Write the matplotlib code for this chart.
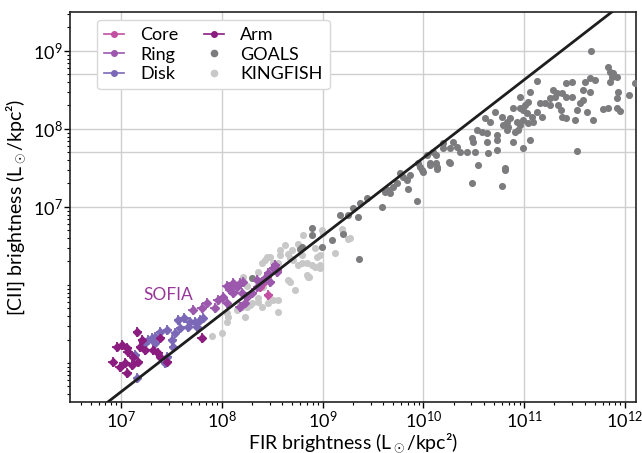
import numpy as np
import matplotlib.pyplot as plt
from matplotlib.ticker import LogLocator, NullFormatter, FixedLocator
from matplotlib.lines import Line2D

plt.rcParams['font.family'] = ['Lato', 'DejaVu Sans']
plt.rcParams['mathtext.fontset'] = 'custom'
plt.rcParams['mathtext.rm'] = 'Lato'
plt.rcParams['mathtext.it'] = 'Lato:italic'

# log10 values: (FIR, [CII])
goals = [(11.66, 9.00), (11.83, 8.79), (11.85, 8.73), (11.88, 8.72), (11.87, 8.67), (11.92, 8.67),
         (11.85, 8.60), (12.10, 8.59), (11.93, 8.47), (11.92, 8.40), (12.04, 8.44),
         (11.13, 8.62), (11.42, 8.59), (11.47, 8.60), (11.60, 8.60), (11.65, 8.65), (11.70, 8.63),
         (11.29, 8.50), (11.33, 8.46), (11.38, 8.46), (11.42, 8.41), (11.47, 8.41), (11.58, 8.50),
         (11.65, 8.47), (11.06, 8.47), (10.96, 8.41), (11.04, 8.35), (11.01, 8.31),
         (11.16, 8.33), (11.21, 8.33), (11.26, 8.31), (11.34, 8.31), (11.26, 8.40), (11.31, 8.41),
         (11.58, 8.37), (11.55, 8.33), (11.52, 8.24), (11.62, 8.22), (11.68, 8.12), (11.50, 8.12),
         (11.78, 8.26), (11.83, 8.27), (11.92, 8.27), (11.95, 8.23),
         (11.37, 8.24), (11.38, 8.15), (11.42, 8.14),
         (10.89, 8.27), (10.96, 8.27), (10.99, 8.24), (11.03, 8.21), (11.08, 8.15), (11.13, 8.22),
         (11.18, 8.15), (10.86, 8.14), (10.83, 8.09), (10.79, 8.05), (10.84, 8.03), (10.93, 8.09),
         (10.96, 8.05), (10.99, 8.12), (11.04, 8.08), (11.09, 8.09),
         (10.71, 8.22), (10.78, 8.15), (10.61, 8.14), (10.66, 8.09),
         (10.53, 7.99), (10.58, 7.96), (10.63, 7.95), (10.73, 7.92), (10.83, 7.99), (10.91, 7.96),
         (10.94, 7.99), (10.48, 7.88), (10.49, 7.83), (10.63, 7.83), (10.73, 7.86),
         (10.89, 7.83), (11.06, 7.86), (10.99, 7.76), (11.52, 7.72),
         (10.29, 7.83), (10.33, 7.77), (10.26, 7.76), (10.19, 7.76), (10.36, 7.71), (10.43, 7.71),
         (10.51, 7.71), (10.10, 7.71), (10.13, 7.67), (10.04, 7.67), (10.64, 7.69), (10.73, 7.73),
         (10.07, 7.56), (10.26, 7.56), (10.14, 7.51), (10.54, 7.54), (10.81, 7.50),
         (10.48, 7.31), (10.78, 7.27), (10.81, 7.47),
         (10.19, 7.82), (10.25, 7.58), (10.14, 7.49), (10.13, 7.56), (10.07, 7.54),
         (9.99, 7.47), (9.97, 7.51), (9.95, 7.56), (10.00, 7.45),
         (9.87, 7.41), (9.84, 7.35), (9.77, 7.44), (9.80, 7.38),
         (9.74, 7.31), (9.70, 7.26), (9.65, 7.22), (9.62, 7.19), (9.67, 7.18), (9.85, 7.23), (9.94, 7.08),
         (9.59, 7.00), (9.44, 7.12), (9.37, 7.05), (9.30, 6.99), (9.35, 6.87), (9.25, 6.90), (9.17, 6.90),
         (9.20, 6.65), (9.09, 6.58), (8.99, 6.49), (8.90, 6.73), (8.90, 6.64), (9.36, 6.33), (8.80, 6.49),
         (8.78, 6.46), (8.30, 6.09)]

kingfish = [(8.81, 6.64), (8.99, 6.71), (9.19, 6.72), (9.25, 6.59), (9.27, 6.60), (9.12, 6.41),
            (8.97, 6.38), (8.92, 6.47), (8.97, 6.26), (8.90, 6.26), (8.85, 6.28), (8.80, 6.28),
            (8.86, 6.10), (8.97, 6.22), (9.00, 6.67), (9.20, 6.67), (8.94, 6.36), (8.76, 6.26),
            (8.68, 6.35), (8.58, 6.38), (8.48, 6.36), (8.43, 6.32), (8.56, 6.28), (8.66, 6.06),
            (8.56, 5.81), (8.46, 5.77), (8.36, 5.83), (8.40, 5.72), (8.30, 5.77), (8.18, 5.74),
            (8.05, 5.64), (8.15, 5.68), (8.25, 5.72), (8.36, 6.17), (8.40, 6.03), (8.73, 5.94),
            (8.85, 6.13), (8.87, 6.10), (8.92, 6.23), (8.45, 6.36), (8.68, 6.04), (8.56, 5.65),
            (8.51, 5.81), (8.36, 5.78), (8.28, 5.74), (8.20, 5.72), (8.06, 5.59), (8.05, 5.53),
            (8.00, 5.38), (7.90, 5.35), (8.23, 5.59), (8.41, 5.97), (8.25, 5.99), (8.21, 6.10),
            (8.51, 6.28), (8.40, 6.28), (8.71, 6.32), (8.80, 6.38), (8.63, 6.51), (8.70, 6.45),
            (8.58, 6.45), (8.66, 6.40), (8.76, 6.53)]

core = [(8.38, 5.97), (8.45, 6.10), (8.46, 5.87), (8.41, 6.03), (8.55, 6.19), (8.43, 6.06)]

ring = [(7.71, 5.68), (7.80, 5.71), (7.85, 5.77), (7.93, 5.71), (7.96, 5.81), (8.01, 5.85),
        (8.05, 5.77), (8.11, 5.90), (8.15, 5.97), (8.18, 6.03), (8.21, 6.04), (8.11, 6.03),
        (8.25, 5.85), (8.30, 5.90), (8.35, 5.97), (8.38, 6.03), (8.43, 6.09), (8.46, 6.15),
        (8.51, 6.22), (8.53, 6.26), (8.23, 5.77), (8.18, 5.72), (8.05, 5.99), (8.08, 5.94),
        (8.20, 5.90), (8.35, 6.06), (8.48, 6.04), (8.55, 6.17)]

disk = [(7.14, 5.10), (7.27, 5.29), (7.31, 5.32), (7.34, 5.26), (7.39, 5.40), (7.46, 5.42),
        (7.51, 5.29), (7.46, 5.08), (7.44, 5.00), (7.54, 5.38), (7.57, 5.55), (7.59, 5.45),
        (7.63, 5.58), (7.66, 5.46), (7.68, 5.53), (7.73, 5.53), (7.75, 5.46), (7.78, 5.55),
        (7.81, 5.58), (7.16, 4.81), (7.24, 5.26), (7.34, 5.33), (7.52, 5.21)]

arm = [(6.92, 5.01), (7.01, 5.23), (7.06, 5.19), (7.07, 5.14), (7.04, 5.00), (7.06, 4.87),
       (7.11, 4.97), (7.12, 5.08), (7.16, 5.40), (7.21, 5.29), (7.19, 5.21), (7.17, 5.01),
       (7.24, 5.17), (7.37, 5.13), (7.39, 5.08), (7.39, 5.32), (7.32, 5.17), (7.46, 5.01),
       (7.80, 5.32), (6.99, 4.95), (6.96, 5.21)]

# fitted relation, log [CII] = log FIR + offset
fit_offset = -2.37
fit_x = [6.0, 13.0]

sofia = [('Core', core, '#c24fa2'), ('Ring', ring, '#9c58ad'),
         ('Disk', disk, '#7b68b6'), ('Arm', arm, '#8a1d7f')]

fig = plt.figure(figsize=(6.42, 4.53), dpi=100)
ax = fig.add_axes([0.109, 0.1126, 0.8817, 0.861])

g = np.array(goals)
k = np.array(kingfish)
ax.scatter(10**k[:, 0], 10**k[:, 1], s=26, color='#c8c8c8', lw=0, zorder=2)
ax.scatter(10**g[:, 0], 10**g[:, 1], s=26, color='#7c7c7e', lw=0, zorder=3)

for name, pts, col in sofia:
    p = np.array(pts)
    x, y = 10**p[:, 0], 10**p[:, 1]
    ex = 0.045
    ey = 0.065
    ax.errorbar(x, y, xerr=[x - x * 10**-ex, x * 10**ex - x], yerr=[y - y * 10**-ey, y * 10**ey - y],
                fmt='D', ms=4.5, color=col, mec=col, elinewidth=1.3, capsize=0, zorder=4)

fx = 10**np.array(fit_x)
ax.plot(fx, fx * 10**fit_offset, color='#1e1e1e', lw=2, zorder=5)

ax.text(10**7.47, 10**5.87, 'SOFIA', color='#98389a', fontsize=12.5, ha='center', va='center')

ax.set_xscale('log')
ax.set_yscale('log')
ax.set_xlim(10**6.494, 10**12.11)
ax.set_ylim(10**4.5, 10**9.5)

ax.xaxis.set_major_locator(FixedLocator([1e7, 1e8, 1e9, 1e10, 1e11, 1e12]))
ax.xaxis.set_minor_locator(LogLocator(base=10, subs=np.arange(2, 10), numticks=30))
ax.yaxis.set_major_locator(FixedLocator([1e7, 1e8, 1e9]))
ax.yaxis.set_minor_locator(LogLocator(base=10, subs=np.arange(1, 10), numticks=30))
ax.xaxis.set_minor_formatter(NullFormatter())
ax.yaxis.set_minor_formatter(NullFormatter())

ax.grid(True, which='major', color='#cfcfcf', lw=1, zorder=0)
for v in [5e7, 5e8]:
    ax.axhline(v, color='#cfcfcf', lw=1, zorder=0)
ax.set_axisbelow(True)

ax.tick_params(which='major', direction='out', length=4, width=1, labelsize=13, pad=1.5)
ax.tick_params(which='minor', direction='out', length=2.5, width=0.8)
for s in ax.spines.values():
    s.set_color('#222222')
    s.set_linewidth(1.2)

ax.set_xlabel('FIR brightness (L$_\\odot$/kpc²)', fontsize=14, labelpad=0)
ax.set_ylabel('[CII] brightness (L$_\\odot$/kpc²)', fontsize=14, labelpad=4)

handles = [Line2D([], [], color=col, marker='o', ms=4, lw=1.2, label=name) for name, pts, col in sofia[:3]]
handles.append(Line2D([], [], color=sofia[3][2], marker='o', ms=4, lw=1.2, label='Arm'))
handles.append(Line2D([], [], color='#7c7c7e', marker='o', ms=4.5, lw=0, label='GOALS'))
handles.append(Line2D([], [], color='#c8c8c8', marker='o', ms=4.5, lw=0, label='KINGFISH'))
ax.legend(handles=handles, ncol=2, loc='upper left', bbox_to_anchor=(0.048, 0.98), borderaxespad=0,
          fontsize=13, handlelength=1.1, handletextpad=0.9, columnspacing=1.4, labelspacing=0.2,
          frameon=True, edgecolor='#d8d8d8', framealpha=1, fancybox=True)

fig.savefig('out.png', dpi=100)
